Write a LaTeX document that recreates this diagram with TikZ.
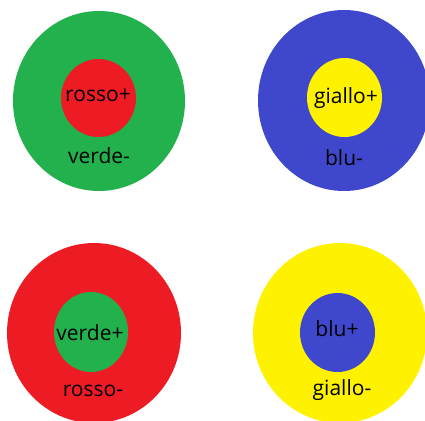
\documentclass[tikz,border=0pt]{standalone}
\usepackage{fontspec}
\setmainfont{Open Sans}
\usetikzlibrary{shapes.geometric}
\definecolor{pgreen}{HTML}{22B14C}
\definecolor{pred}{HTML}{ED1C24}
\definecolor{pblue}{HTML}{3F48CC}
\definecolor{pyellow}{HTML}{FFF200}
\tikzset{
  disc/.style={ellipse, inner sep=0pt, draw=none},
  lbl/.style={anchor=base, inner sep=0pt, font=\fontsize{21}{24}\selectfont, text=black}
}
\begin{document}
\begin{tikzpicture}[x=1pt,y=-1pt]
\useasboundingbox (0,0) rectangle (425,420);
\fill[white] (0,0) rectangle (425,420);
% top-left
\node[disc, fill=pgreen, minimum width=172pt, minimum height=180pt] (o1) at (99,101) {};
\node[disc, fill=pred, minimum width=75pt, minimum height=78pt] (i1) at (98.5,98) {};
\node[lbl] (t1) at (98,101.5) {rosso+};
\node[lbl] (b1) at (99,163) {verde-};
% top-right
\node[disc, fill=pblue, minimum width=172pt, minimum height=181pt] (o2) at (344,100.5) {};
\node[disc, fill=pyellow, minimum width=75pt, minimum height=79pt] (i2) at (344.5,97.5) {};
\node[lbl] (t2) at (346,103) {giallo+};
\node[lbl] (b2) at (344,165) {blu-};
% bottom-left
\node[disc, fill=pred, minimum width=174pt, minimum height=180pt] (o3) at (94,333) {};
\node[disc, fill=pgreen, minimum width=74pt, minimum height=80pt] (i3) at (91,332) {};
\node[lbl] (t3) at (90,340) {verde+};
\node[lbl] (b3) at (93,396.5) {rosso-};
% bottom-right
\node[disc, fill=pyellow, minimum width=174pt, minimum height=180pt] (o4) at (340,333) {};
\node[disc, fill=pblue, minimum width=75pt, minimum height=79pt] (i4) at (337.5,332.5) {};
\node[lbl] (t4) at (337,336.5) {blu+};
\node[lbl] (b4) at (342,395) {giallo-};
\end{tikzpicture}
\end{document}
